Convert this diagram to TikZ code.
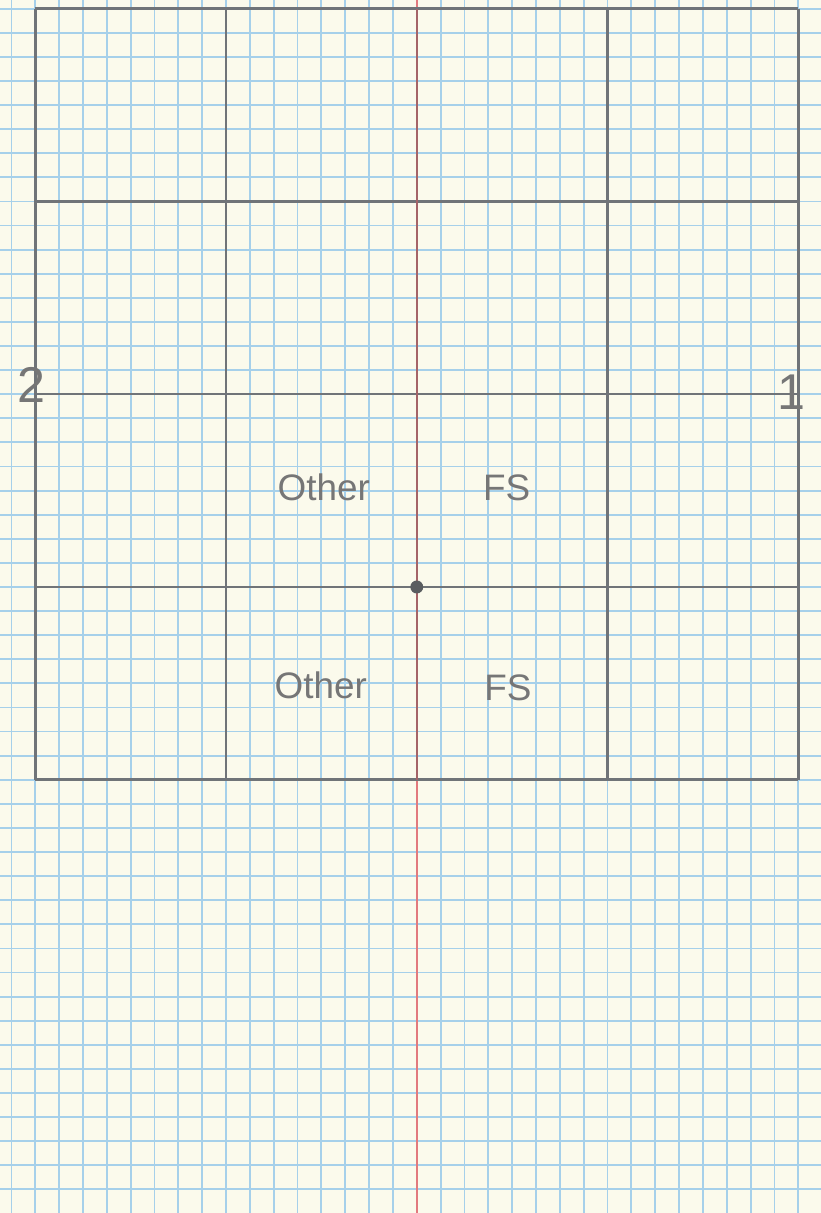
\documentclass[tikz,border=0pt]{standalone}
\usepackage{fontspec}
\setmainfont{Liberation Sans}
\usepackage{tikz}
\usetikzlibrary{positioning,calc}
\definecolor{paper}{RGB}{251,250,236}
\definecolor{gridblue}{RGB}{166,208,234}
\definecolor{pencil}{RGB}{112,116,120}
\definecolor{marginred}{RGB}{226,122,126}
\definecolor{penred}{RGB}{165,100,104}
\definecolor{writing}{RGB}{118,118,118}
\tikzset{
  bluegrid/.style={gridblue,line width=1.1pt},
  pencilline/.style={pencil,line width=1.5pt},
  label/.style={text=writing,inner sep=0pt,font=\fontsize{22}{26}\selectfont},
  biglabel/.style={text=writing,inner sep=0pt,font=\fontsize{30}{34}\selectfont}
}

\begin{document}
\begin{tikzpicture}[x=0.5cm,y=0.5053cm]
  \def\Lft{-17.48} % 紙の左端
  \def\Rgt{16.94}  % 紙の右端
  \def\Bot{-25.98} % 紙の下端
  \def\Top{24.36}  % 紙の上端
  \useasboundingbox (\Lft,\Bot) rectangle (\Rgt,\Top);
  \fill[paper] (\Lft,\Bot) rectangle (\Rgt,\Top); % 方眼紙の地
  \draw[bluegrid,step=1] (\Lft,\Bot) grid (\Rgt,\Top); % 青い方眼
  \draw[marginred,line width=1.2pt] (0,\Bot) -- (0,\Top); % 赤い中心線
  \foreach \yy in {-8,0,8,16,24} \draw[pencilline] (-16,\yy) -- (16,\yy); % 鉛筆の横線
  \foreach \xx in {-16,-8,8,16} \draw[pencilline] (\xx,-8) -- (\xx,24); % 鉛筆の縦線
  \draw[penred,line width=1.4pt] (0,-8) -- (0,24); % 枠内の中心線(赤の上に鉛筆)
  \fill[pencil!80!black] (0,0) circle (0.27); % 原点
  \coordinate (origin) at (0,0);
  \node[biglabel] (two) at (-16.18,8.38) {2};
  \node[biglabel] (one) at (15.72,8.09) {1};
  \node[label] (otherup) at (-3.9,4.15) {Other};
  \node[label] (fsup) at (3.77,4.11) {FS};
  \node[label] (otherlow) at (-4.03,-4.07) {Other};
  \node[label] (fslow) at (3.82,-4.18) {FS};
\end{tikzpicture}
\end{document}
